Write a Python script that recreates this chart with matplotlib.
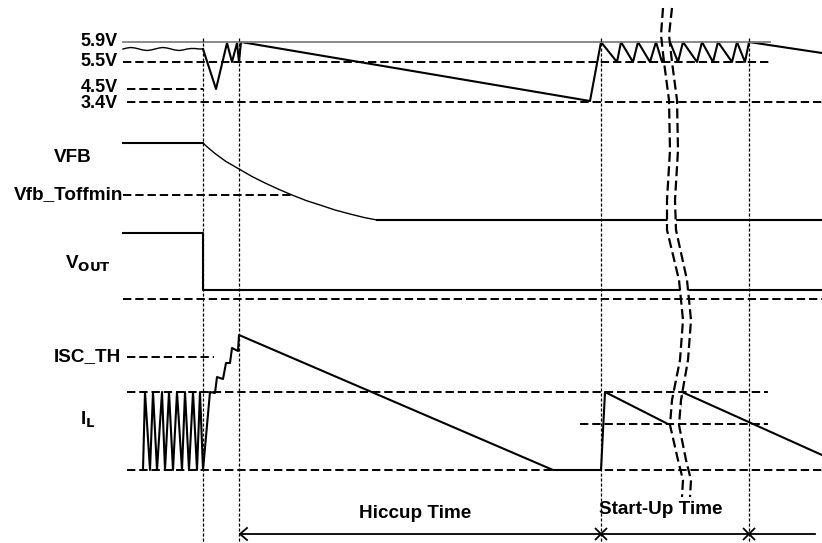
import matplotlib.pyplot as plt

plt.rcParams['font.family'] = ['Liberation Sans', 'DejaVu Sans']

# --- levels (pixel rows of the reference picture) ---
lvl_names = ['5.9V', '5.5V', '4.5V', '3.4V']
lvl_y = [42, 62, 89, 102]
lvl_label_y = [41, 62, 87, 104]

# switch node / input waveform (top trace)
wavy_x = [123, 127, 131, 135, 139, 143, 147, 151, 155, 159, 163, 167, 171, 175, 179, 183, 187, 191, 195, 199, 203]
wavy_y = [49, 48, 47.5, 48, 49, 50, 50.5, 50, 49, 48, 47.5, 48, 49, 50, 50.5, 50, 49, 48.5, 48.5, 49, 49]
top_x = [203, 216, 227, 232, 237, 239, 241, 590, 601, 617, 621, 633, 638, 650, 656, 662, 670,
         678, 683, 697, 702, 713, 718, 732, 737, 745, 749, 822]
top_y = [49, 89, 43, 62, 43, 62, 42, 101, 42, 62, 42, 62, 42, 62, 42, 62, 42,
         62, 42, 62, 42, 62, 42, 62, 42, 62, 42, 53]

# VFB
vfb_x = [123, 203, 209, 215, 226, 239, 252, 265, 278, 292, 306, 320, 335, 350, 364, 377, 822]
vfb_y = [143, 143, 148.5, 153.5, 161.5, 169, 176.5, 183, 189, 195, 200.5, 205, 210, 214, 217.5, 220, 220]
vfb_toff_y = 195

# VOUT
vout_x = [123, 203, 203, 822]
vout_y = [233, 233, 290, 290]
vout_ref_y = 299

# inductor current
il_x = [143, 145, 150, 153, 157, 162, 165, 169, 173, 177, 182, 185, 189, 193, 197, 200, 203,
        210, 215, 217, 223, 226, 230, 232, 238, 239, 553, 601, 605, 668, 678, 682, 822]
il_y = [470, 392, 470, 392, 470, 392, 470, 392, 470, 392, 470, 392, 470, 392, 470, 392, 470,
        392, 393, 377, 379, 363, 363, 348, 351, 335, 470, 470, 392, 424, 424, 392, 455]
isc_th_y = 357
il_hi_y = 392
il_mid_y = 424
il_lo_y = 470

# event times
t_events = [203, 239, 601, 749]

# break (time cut) curves
brk_y = [8, 35, 62, 100, 150, 200, 230, 280, 320, 360, 400, 425, 460, 480, 497]
brk_xl = [663, 661, 664, 669, 670, 667, 667, 679, 683, 680, 672, 670, 678, 683, 682]
brk_xr = [672, 669, 672, 677, 678, 675, 676, 687, 691, 688, 681, 679, 686, 691, 690]

arrow_y = 534

fig = plt.figure(figsize=(8.22, 5.43), dpi=100)
ax = fig.add_axes([0, 0, 1, 1])
ax.set_xlim(0, 822)
ax.set_ylim(543, 0)
ax.axis('off')

blk = 'black'
dash = (0, (4.3, 2.0))
dot = (0, (2.5, 1.5))

# waveforms
ax.plot(wavy_x, wavy_y, color=blk, lw=1.0, zorder=2)
ax.plot(top_x, top_y, color=blk, lw=1.5, zorder=2)
ax.plot(vfb_x[:2], vfb_y[:2], color=blk, lw=1.5, zorder=2)
ax.plot(vfb_x[1:16], vfb_y[1:16], color=blk, lw=1.0, zorder=2)
ax.plot(vfb_x[15:], vfb_y[15:], color=blk, lw=1.5, zorder=2)
ax.plot(vout_x, vout_y, color=blk, lw=1.5, zorder=2)
ax.plot(il_x, il_y, color=blk, lw=1.5, zorder=2)

# white cut across the break
ax.fill_betweenx(brk_y, brk_xl, brk_xr, color='white', zorder=3, lw=0)

# reference lines
ax.plot([123, 770], [lvl_y[0]] * 2, color='#808080', lw=1.3, zorder=4)
ax.plot([123, 770], [lvl_y[1]] * 2, color=blk, lw=1.4, ls=dash, zorder=4)
ax.plot([127, 203], [lvl_y[2]] * 2, color=blk, lw=1.4, ls=dash, zorder=4)
ax.plot([127, 822], [lvl_y[3]] * 2, color=blk, lw=1.4, ls=dash, zorder=4)
ax.plot([123, 292], [vfb_toff_y] * 2, color=blk, lw=1.4, ls=dash, zorder=4)
ax.plot([123, 822], [vout_ref_y] * 2, color=blk, lw=1.4, ls=dash, zorder=4)
ax.plot([127, 214], [isc_th_y] * 2, color=blk, lw=1.4, ls=dash, zorder=4)
ax.plot([127, 768], [il_hi_y] * 2, color=blk, lw=1.4, ls=dash, zorder=4)
ax.plot([580, 768], [il_mid_y] * 2, color=blk, lw=1.4, ls=dash, zorder=4)
ax.plot([127, 822], [il_lo_y] * 2, color=blk, lw=1.4, ls=dash, zorder=4)

# event markers
for t in t_events:
    ax.plot([t, t], [38, 543], color=blk, lw=0.9, ls=dot, zorder=4)

# break curves
ax.plot(brk_xl, brk_y, color=blk, lw=1.6, ls=(0, (4.5, 2.0)), zorder=5)
ax.plot(brk_xr, brk_y, color=blk, lw=1.6, ls=(0, (4.5, 2.0)), zorder=5)

# time arrows
ax.plot([t_events[1] + 1, 815], [arrow_y] * 2, color=blk, lw=1.3, zorder=4)
ax.plot([t_events[1] + 8, t_events[1] + 1, t_events[1] + 8],
        [arrow_y - 6, arrow_y, arrow_y + 6], color=blk, lw=1.3, zorder=4)
for t in t_events[2:]:
    ax.plot([t], [arrow_y], marker='x', ms=9, mew=1.3, color=blk, zorder=5)

# labels
fs = 13.6
kw = dict(fontsize=fs, fontweight='bold', va='center', color=blk)
for name, y in zip(lvl_names, lvl_label_y):
    ax.text(118, y, name, ha='right', fontsize=13, fontweight='bold', va='center')
ax.text(73, 158, 'VFB', ha='center', **kw)
ax.text(123, 195, 'Vfb_Toffmin', ha='right', **kw)
ax.text(88, 264, r'V$_{\mathbf{OUT}}$', ha='center', **kw)
ax.text(121, 357, 'ISC_TH', ha='right', **kw)
ax.text(88, 420, r'I$_{\mathbf{L}}$', ha='center', **kw)
ax.text(415, 513, 'Hiccup Time', ha='center', **kw)
ax.text(661, 510, 'Start-Up Time', ha='center', **kw)

fig.savefig('out.png', dpi=100)
